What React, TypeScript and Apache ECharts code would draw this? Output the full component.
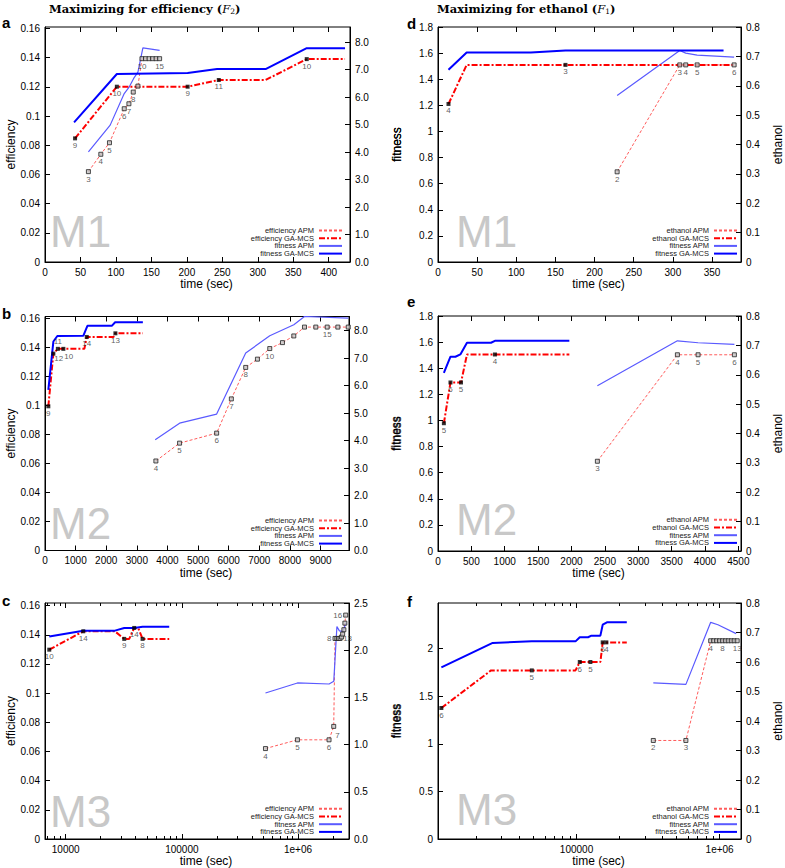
import React, { useEffect, useRef } from 'react';
import * as echarts from 'echarts';

// ---------- Panel a (M1, maximizing efficiency) ----------
const aEffApmT = [61.2, 78.7, 90.9, 111.7, 118.3, 124.4, 131, 136.7, 141.7, 146.7, 151.7, 156.6, 161.6];
const aEffApmV = [0.0619, 0.0738, 0.0817, 0.105, 0.1084, 0.1164, 0.1205, 0.1393, 0.1393, 0.1393, 0.1393, 0.1393, 0.1393];
const aEffApmLbl = ['3', '4', '5', '6', '7', '8', '', '10', '', '', '', '', '15'];
const aEffGaT = [42.4, 101.3, 201.1, 245, 311, 369, 423];
const aEffGaV = [0.0847, 0.1201, 0.1201, 0.1247, 0.1247, 0.139, 0.139];
const aEffGaLbl = ['9', '10', '9', '11', null, '10', null];
const aFitApmT = [61.2, 91.9, 111.7, 118.3, 124.8, 131, 138, 161.6];
const aFitApmV = [4.01, 4.98, 6.13, 6.35, 6.67, 6.91, 7.79, 7.7];
const aFitGaT = [41, 101.3, 201.1, 242.6, 311, 369, 423];
const aFitGaV = [5.08, 6.84, 6.88, 7.02, 7.02, 7.78, 7.78];

// ---------- Panel b (M2, maximizing efficiency) ----------
const bEffApmT = [3622, 4396, 5607, 6087, 6556, 6939, 7342, 7757, 8127, 8476, 8846, 9218, 9566, 9906];
const bEffApmV = [0.0617, 0.074, 0.0809, 0.1045, 0.1262, 0.1319, 0.1392, 0.1433, 0.1479, 0.154, 0.154, 0.154, 0.154, 0.154];
const bEffApmLbl = ['4', '5', '6', '7', '8', '', '10', '', '', '', '', '15', '', ''];
const bEffGaT = [109, 273, 420, 600, 1286, 1364, 2236, 2300, 3197];
const bEffGaV = [0.0994, 0.1357, 0.139, 0.139, 0.139, 0.1472, 0.1472, 0.1497, 0.1497];
const bEffGaLbl = ['9', '12', '11', '10', null, '14', null, '13', null];
const bEffGaPos: any[] = ['bottom', [3, 3], 'top', [3, 6], null, 'bottom', null, 'bottom', null];
const bFitApmT = [3600, 4396, 5607, 6556, 7342, 8127, 8476, 9906];
const bFitApmV = [4.03, 4.63, 4.96, 7.18, 7.81, 8.21, 8.51, 8.45];
const bFitGaT = [109, 273, 403, 1254, 1385, 2182, 2291, 3197];
const bFitGaV = [5.84, 7.6, 7.8, 7.81, 8.17, 8.17, 8.3, 8.3];

// ---------- Panel c (M3, maximizing efficiency, log time) ----------
const cEffApmT = [524500, 988000, 1848000, 2028000, 2080000, 2160000, 2230000, 2300000, 2370000, 2420000, 2480000, 2530000, 2570000];
const cEffApmV = [0.062, 0.068, 0.068, 0.0772, 0.1375, 0.1375, 0.1375, 0.1375, 0.1385, 0.1405, 0.1435, 0.148, 0.1535];
const cEffApmLbl = ['4', '5', '6', '7', '8', '', '', '', '', '13', '', '', '16'];
const cEffApmPos: any[] = ['bottom', 'bottom', 'bottom', [4, 8], 'left', 'bottom', 'bottom', 'bottom', 'bottom', [3, 3], 'bottom', 'bottom', 'left'];
const cEffGaT = [7227, 14170, 26550, 31920, 35240, 38900, 42080, 45920, 77850];
const cEffGaV = [0.1298, 0.1424, 0.1424, 0.1372, 0.1372, 0.1447, 0.1447, 0.1372, 0.1372];
const cEffGaLbl = ['10', '14', null, '9', null, '14', null, '8', null];
const cFitApmT = [524500, 988000, 1850000, 2030000, 2160000, 2270000, 2420000, 2600000];
const cFitApmV = [1.547, 1.653, 1.642, 1.67, 2.25, 2.205, 2.2, 2.29];
const cFitGaT = [7227, 14170, 26550, 31920, 38900, 45920, 77850];
const cFitGaV = [2.146, 2.207, 2.207, 2.235, 2.235, 2.248, 2.248];

// ---------- Panel d (M1, maximizing ethanol) ----------
const dEthApmT = [228.8, 308.8, 316.4, 331, 378.2];
const dEthApmV = [0.307, 0.671, 0.671, 0.671, 0.671];
const dEthApmLbl = ['2', '3', '4', '5', '6'];
const dEthGaT = [13.4, 36.6, 162.8, 379];
const dEthGaV = [0.538, 0.671, 0.671, 0.671];
const dEthGaLbl = ['4', null, '3', null];
const dFitApmT = [228.8, 308.8, 316.4, 331, 378.2];
const dFitApmV = [1.275, 1.62, 1.6, 1.585, 1.57];
const dFitGaT = [13.4, 36.6, 118.6, 162.8, 364.7];
const dFitGaV = [1.472, 1.605, 1.605, 1.62, 1.62];

// ---------- Panel e (M2, maximizing ethanol) ----------
const eEthApmT = [2388, 3587, 3897, 4441];
const eEthApmV = [0.3055, 0.668, 0.668, 0.668];
const eEthApmLbl = ['3', '4', '5', '6'];
const eEthGaT = [88, 187, 345, 434, 853, 1968];
const eEthGaV = [0.435, 0.5737, 0.5737, 0.669, 0.669, 0.669];
const eEthGaLbl = ['5', '6', '5', null, '4', null];
const eFitApmT = [2388, 3587, 3897, 4441];
const eFitApmV = [1.265, 1.61, 1.595, 1.583];
const eFitGaT = [88, 187, 261, 335, 434, 794, 853, 1968];
const eFitGaV = [1.365, 1.488, 1.488, 1.506, 1.595, 1.595, 1.61, 1.61];

// ---------- Panel f (M3, maximizing ethanol, log time) ----------
const fEthApmT = [344000, 581000, 866000, 907800, 951600, 998000, 1045700, 1097000, 1149000, 1206000, 1263000, 1326000];
const fEthApmV = [0.334, 0.334, 0.672, 0.672, 0.672, 0.672, 0.672, 0.672, 0.672, 0.672, 0.672, 0.672];
const fEthApmLbl = ['2', '3', '4', '', '', '', '8', '', '', '', '', '13'];
const fEthGaT = [11370, 25290, 48700, 98400, 105400, 125000, 146800, 152400, 161600, 224500];
const fEthGaV = [0.444, 0.5715, 0.5715, 0.5715, 0.6, 0.6, 0.6, 0.6665, 0.6665, 0.6665];
const fEthGaLbl = ['6', null, '5', null, '6', '5', null, '6', '4', null];
const fFitApmT = [344000, 581000, 866000, 973000, 1304000];
const fFitApmV = [1.64, 1.625, 2.277, 2.252, 2.158];
const fFitGaT = [11370, 25960, 48700, 98400, 105400, 120400, 127100, 146800, 152400, 163100, 224500];
const fFitGaV = [1.803, 2.06, 2.077, 2.077, 2.12, 2.12, 2.137, 2.137, 2.252, 2.277, 2.277];

const titleEff = 'Maximizing for efficiency (';
const titleEth = 'Maximizing for ethanol (';

const fmtNum = (v: number) => String(parseFloat(v.toFixed(4)));
const fmt1 = (v: number) => v.toFixed(1);
const fmtLog = (v: number) => {
  const l = Math.log10(v);
  const r = Math.round(l);
  if (Math.abs(l - r) > 1e-6) return '';
  return r >= 6 ? '1e+0' + r : String(Math.round(v));
};
const minorLog = (min: number, max: number) => {
  const out: number[] = [];
  for (let k = Math.floor(Math.log10(min)); k <= Math.ceil(Math.log10(max)); k++) {
    for (let m = 2; m <= 9; m++) {
      const v = m * Math.pow(10, k);
      if (v > min && v < max) out.push(v);
    }
  }
  return out;
};

type S = [number[], number[], (string | null)[] | null, any[] | null];

const panels = [
  { letter: 'a', m: 'M1', left: 45, top: 27, width: 305, height: 235, log: false, xMin: 0, xMax: 430, xInt: 50,
    lMax: 0.161, lInt: 0.02, lFmt: fmtNum, rMax: 8.55, rInt: 1, rFmt: fmt1, lName: 'efficiency', rName: 'fitness',
    metric: 'efficiency', metricRight: false, lGap: 28, rGap: 41,
    metApm: [aEffApmT, aEffApmV, aEffApmLbl, null] as S, metGa: [aEffGaT, aEffGaV, aEffGaLbl, null] as S,
    fitApm: [aFitApmT, aFitApmV, null, null] as S, fitGa: [aFitGaT, aFitGaV, null, null] as S,
    legRight: 442, legTop: 231, mLeft: 50, mTop: 209, letX: 2, letY: 15 },
  { letter: 'b', m: 'M2', left: 45, top: 316.5, width: 304, height: 234, log: false, xMin: 0, xMax: 9930, xInt: 1000,
    lMax: 0.1613, lInt: 0.02, lFmt: fmtNum, rMax: 8.51, rInt: 1, rFmt: fmt1, lName: 'efficiency', rName: 'fitness',
    metric: 'efficiency', metricRight: false, lGap: 28, rGap: 41,
    metApm: [bEffApmT, bEffApmV, bEffApmLbl, null] as S, metGa: [bEffGaT, bEffGaV, bEffGaLbl, bEffGaPos] as S,
    fitApm: [bFitApmT, bFitApmV, null, null] as S, fitGa: [bFitGaT, bFitGaV, null, null] as S,
    legRight: 442, legTop: 521, mLeft: 50, mTop: 501, letX: 2, letY: 306 },
  { letter: 'c', m: 'M3', left: 45, top: 603, width: 304, height: 236, log: true, xMin: 6640, xMax: 2745000, xInt: 0,
    lMax: 0.1618, lInt: 0.02, lFmt: fmtNum, rMax: 2.5, rInt: 0.5, rFmt: fmt1, lName: 'efficiency', rName: 'fitness',
    metric: 'efficiency', metricRight: false, lGap: 28, rGap: 41,
    metApm: [cEffApmT, cEffApmV, cEffApmLbl, cEffApmPos] as S, metGa: [cEffGaT, cEffGaV, cEffGaLbl, null] as S,
    fitApm: [cFitApmT, cFitApmV, null, null] as S, fitGa: [cFitGaT, cFitGaV, null, null] as S,
    legRight: 442, legTop: 809.3, mLeft: 50, mTop: 789, letX: 2, letY: 593 },
  { letter: 'd', m: 'M1', left: 438, top: 27, width: 306, height: 235, log: false, xMin: 0, xMax: 387, xInt: 50,
    lMax: 1.8, lInt: 0.2, lFmt: fmtNum, rMax: 0.8, rInt: 0.1, rFmt: fmtNum, lName: 'fitness', rName: 'ethanol',
    metric: 'ethanol', metricRight: true, lGap: 35, rGap: 31,
    metApm: [dEthApmT, dEthApmV, dEthApmLbl, null] as S, metGa: [dEthGaT, dEthGaV, dEthGaLbl, null] as S,
    fitApm: [dFitApmT, dFitApmV, null, null] as S, fitGa: [dFitGaT, dFitGaV, null, null] as S,
    legRight: 47, legTop: 231, mLeft: 456, mTop: 209, letX: 407, letY: 16 },
  { letter: 'e', m: 'M2', left: 438, top: 316, width: 306, height: 235, log: false, xMin: 0, xMax: 4540, xInt: 500,
    lMax: 1.8, lInt: 0.2, lFmt: fmtNum, rMax: 0.8, rInt: 0.1, rFmt: fmtNum, lName: 'fitness', rName: 'ethanol',
    metric: 'ethanol', metricRight: true, lGap: 35, rGap: 31,
    metApm: [eEthApmT, eEthApmV, eEthApmLbl, null] as S, metGa: [eEthGaT, eEthGaV, eEthGaLbl, null] as S,
    fitApm: [eFitApmT, eFitApmV, null, null] as S, fitGa: [eFitGaT, eFitGaV, null, null] as S,
    legRight: 47, legTop: 520.3, mLeft: 456, mTop: 497, letX: 407, letY: 294 },
  { letter: 'f', m: 'M3', left: 438, top: 603, width: 305, height: 236, log: true, xMin: 10770, xMax: 1410000, xInt: 0,
    lMax: 2.48, lInt: 0.5, lFmt: fmtNum, rMax: 0.8, rInt: 0.1, rFmt: fmtNum, lName: 'fitness', rName: 'ethanol',
    metric: 'ethanol', metricRight: true, lGap: 35, rGap: 31,
    metApm: [fEthApmT, fEthApmV, fEthApmLbl, null] as S, metGa: [fEthGaT, fEthGaV, fEthGaLbl, null] as S,
    fitApm: [fFitApmT, fFitApmV, null, null] as S, fitGa: [fFitGaT, fFitGaV, null, null] as S,
    legRight: 47, legTop: 809.3, mLeft: 456, mTop: 787, letX: 407, letY: 594 },
];

const STY = {
  metApm: { color: '#ff5c5c', width: 1, type: [3, 2] },
  metGa: { color: '#ff0000', width: 2, type: [6, 2, 2, 2] },
  fitApm: { color: '#5a5aff', width: 1.2, type: 'solid' },
  fitGa: { color: '#0000ff', width: 2, type: 'solid' },
};

const isMult = (max: number, int: number) => Math.abs(max / int - Math.round(max / int)) < 1e-6;

function buildOption() {
  const grid: any[] = [];
  const xAxis: any[] = [];
  const yAxis: any[] = [];
  const series: any[] = [];
  const legend: any[] = [];
  const graphic: any[] = [];
  const extraX: any[] = [];

  panels.forEach((p, i) => {
    grid.push({ left: p.left, top: p.top, width: p.width, height: p.height, show: true, borderColor: '#000', borderWidth: 1, containLabel: false });
    const base: any = { gridIndex: i, type: p.log ? 'log' : 'value', min: p.xMin, max: p.xMax, splitLine: { show: false } };
    if (p.log) base.logBase = 10; else base.interval = p.xInt;
    xAxis.push({
      ...base, position: 'bottom',
      axisLine: { onZero: false, lineStyle: { color: '#000', width: 1 } },
      axisTick: { inside: true, length: 5, lineStyle: { color: '#000' } },
      axisLabel: { fontSize: 10, color: '#000', margin: 5, showMaxLabel: p.log ? true : false, interval: 0, formatter: p.log ? fmtLog : fmtNum },
      name: 'time (sec)', nameLocation: 'middle', nameGap: 16,
      nameTextStyle: { fontSize: 12, color: '#000', padding: [0, 0, 0, 18] },
    });
    // mirrored ticks on the top border
    extraX.push({
      ...base, position: 'top',
      axisLine: { show: false, onZero: false },
      axisTick: { inside: true, length: 5, lineStyle: { color: '#000' } },
      axisLabel: { show: false },
    });
    if (p.log) {
      const minors = minorLog(p.xMin, p.xMax);
      ['bottom', 'top'].forEach((pos) => {
        extraX.push({
          ...base, position: pos,
          axisLine: { show: false, onZero: false },
          axisTick: { inside: true, length: 3, customValues: minors, lineStyle: { color: '#000' } },
          axisLabel: { show: false },
        });
      });
    }
    yAxis.push({
      gridIndex: i, type: 'value', position: 'left', min: 0, max: p.lMax, interval: p.lInt,
      axisLine: { show: true, onZero: false, lineStyle: { color: '#000' } },
      axisTick: { show: true, inside: true, length: 5, lineStyle: { color: '#000' } },
      axisLabel: { fontSize: 10, color: '#000', margin: 5, showMaxLabel: isMult(p.lMax, p.lInt), formatter: p.lFmt },
      splitLine: { show: false },
      name: p.lName, nameLocation: 'middle', nameRotate: 90, nameGap: p.lGap,
      nameTextStyle: { fontSize: 12, color: '#000' },
    });
    yAxis.push({
      gridIndex: i, type: 'value', position: 'right', min: 0, max: p.rMax, interval: p.rInt,
      axisLine: { show: true, onZero: false, lineStyle: { color: '#000' } },
      axisTick: { show: true, inside: true, length: 5, lineStyle: { color: '#000' } },
      axisLabel: { fontSize: 10, color: '#000', margin: 5, showMaxLabel: isMult(p.rMax, p.rInt), formatter: p.rFmt },
      splitLine: { show: false },
      name: p.rName, nameLocation: 'middle', nameRotate: 90, nameGap: p.rGap,
      nameTextStyle: { fontSize: 12, color: '#000' },
    });

    const yL = 2 * i;
    const yR = 2 * i + 1;
    const yMet = p.metricRight ? yR : yL;
    const yFit = p.metricRight ? yL : yR;
    const names = [p.metric + ' APM', p.metric + ' GA-MCS', 'fitness APM', 'fitness GA-MCS'];
    const defs: [S, any, number][] = [[p.metApm, STY.metApm, yMet], [p.metGa, STY.metGa, yMet], [p.fitApm, STY.fitApm, yFit], [p.fitGa, STY.fitGa, yFit]];
    defs.forEach(([d, st, yi], k) => {
      series.push({
        type: 'line', name: names[k], xAxisIndex: i, yAxisIndex: yi, symbol: 'none', silent: true,
        data: d[0].map((t, j) => [t, d[1][j]]),
        lineStyle: { color: st.color, width: st.width, type: st.type },
        itemStyle: { color: st.color }, z: 2 + (k === 1 || k === 3 ? 1 : 0),
      });
    });
    // markers with their labels
    [[p.metApm, 'apm'], [p.metGa, 'ga']].forEach(([d, kind]: any) => {
      const [ts, vs, lbls, pos] = d as S;
      const data: any[] = [];
      ts.forEach((t, j) => {
        const l = lbls ? lbls[j] : null;
        if (l === null || l === undefined) return;
        data.push({ value: [t, vs[j]], label: { formatter: l, position: (pos && pos[j]) || 'bottom' } });
      });
      series.push({
        type: 'scatter', name: 'pts-' + p.letter + '-' + kind, xAxisIndex: i, yAxisIndex: yMet, silent: true,
        symbol: 'rect', symbolSize: 4,
        itemStyle: kind === 'ga' ? { color: '#000' } : { color: '#c4c4c4', borderColor: '#222', borderWidth: 1 },
        label: { show: true, fontSize: 8, color: '#333', distance: 1, fontFamily: 'Liberation Sans' },
        data, z: 5,
      });
    });
    names.forEach((n, k) => {
      legend.push({
        data: [n], right: p.legRight, top: p.legTop + k * 7.7 - 4.5, padding: 0, itemGap: 0,
        itemWidth: 23, itemHeight: 7, align: 'right', selectedMode: false,
        itemStyle: { opacity: 0, borderWidth: 0 },
        textStyle: { fontSize: 7.5, color: '#222', fontFamily: 'Liberation Sans' },
      });
    });
    graphic.push({ type: 'text', left: p.mLeft, top: p.mTop, silent: true, z: 0,
      style: { text: p.m, fontSize: 44, fontFamily: 'Liberation Sans', fill: '#c8c8c8' } });
    graphic.push({ type: 'text', left: p.letX, top: p.letY, silent: true,
      style: { text: p.letter, fontSize: 15, fontWeight: 'bold', fontFamily: 'Liberation Sans', fill: '#000' } });
  });

  const richTitle = {
    b: { fontFamily: 'DejaVu Serif', fontWeight: 'bold', fontSize: 11.5, fill: '#000' },
    i: { fontFamily: 'DejaVu Serif', fontStyle: 'italic', fontSize: 11.5, fill: '#000' },
    s: { fontFamily: 'DejaVu Serif', fontSize: 7.5, fill: '#000', verticalAlign: 'bottom', padding: [5, 0, 0, 0] },
  };
  graphic.push({ type: 'text', left: 49, top: 3, silent: true,
    style: { text: '{b|' + titleEff + '}{i|F}{s|2}{b|)}', rich: richTitle } });
  graphic.push({ type: 'text', left: 437, top: 3, silent: true,
    style: { text: '{b|' + titleEth + '}{i|F}{s|1}{b|)}', rich: richTitle } });

  return {
    animation: false,
    backgroundColor: '#fff',
    textStyle: { fontFamily: 'Liberation Sans' },
    grid, xAxis: xAxis.concat(extraX), yAxis, series, legend, graphic,
  };
}

export default function App() {
  const ref = useRef<HTMLDivElement>(null);
  useEffect(() => {
    const chart = echarts.init(ref.current as HTMLDivElement, null, { renderer: 'svg' });
    chart.setOption(buildOption() as any);
    return () => chart.dispose();
  }, []);
  return <div ref={ref} style={{ position: 'absolute', left: 0, top: 0, width: 785, height: 868 }} />;
}
